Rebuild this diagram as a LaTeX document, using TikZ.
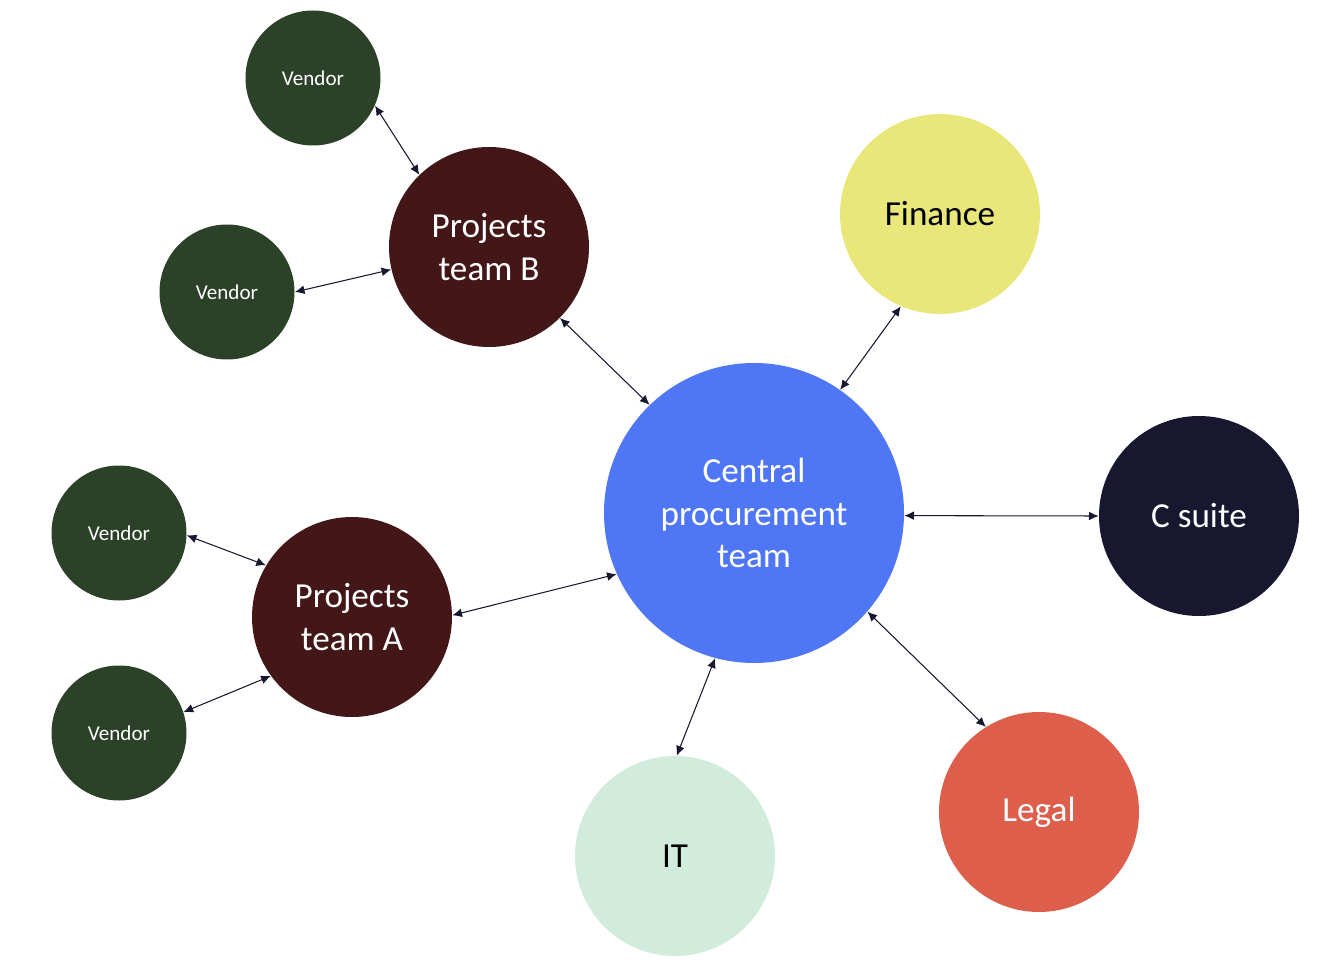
\documentclass[tikz,border=0pt]{standalone}
\usepackage{fontspec}
\setmainfont{Carlito}
\usepackage{xcolor}
\usepackage{tikz}
\usetikzlibrary{arrows.meta}

\definecolor{vendorgreen}{HTML}{2C4228}
\definecolor{teamred}{HTML}{431717}
\definecolor{centralblue}{HTML}{4F76F5}
\definecolor{financeyellow}{HTML}{E9E77A}
\definecolor{csuitenavy}{HTML}{17172F}
\definecolor{legalred}{HTML}{DD5E4A}
\definecolor{itgreen}{HTML}{D1EBDC}
\definecolor{arrowink}{HTML}{17172F}

\begin{document}
\begin{tikzpicture}[
    unit/.style={circle, inner sep=0pt, minimum size=4cm, align=center,
      font=\fontsize{20}{24}\selectfont},
    vendor/.style={circle, inner sep=0pt, minimum size=2.7cm, fill=vendorgreen,
      text=white, font=\fontsize{12}{14}\selectfont},
    link/.style={arrowink, line width=0.6pt,
      {Latex[length=5.5pt,width=5pt]}-{Latex[length=5.5pt,width=5pt]}}
  ]
    \useasboundingbox (0,0) rectangle (26.44,-19.52);

    \node[unit, minimum size=6cm, fill=centralblue, text=white] (central) at (15.08,-10.26)
      {Central\\procurement\\team};
    \node[unit, fill=teamred, text=white] (teamB) at (9.78,-4.94) {Projects\\team B};
    \node[unit, fill=teamred, text=white] (teamA) at (7.04,-12.34) {Projects\\team A};
    \node[unit, fill=financeyellow, text=black] (finance) at (18.80,-4.28) {Finance};
    \node[unit, fill=csuitenavy, text=white] (csuite) at (23.98,-10.32) {C suite};
    \node[unit, fill=legalred, text=white] (legal) at (20.78,-16.24) {Legal};
    \node[unit, fill=itgreen, text=black] (it) at (13.50,-17.12) {IT};

    \node[vendor] (vendorB1) at (6.26,-1.56) {Vendor};
    \node[vendor] (vendorB2) at (4.54,-5.84) {Vendor};
    \node[vendor] (vendorA1) at (2.38,-10.66) {Vendor};
    \node[vendor] (vendorA2) at (2.38,-14.66) {Vendor};

    % connectors
    \foreach \a/\b in {vendorB1.-24/teamB.134, vendorB2.0/teamB.193,
        teamB.-45/central.134.5, central.55/finance.247,
        central.-1/csuite.180, central.-41/legal.122,
        central.-105/it.89, central.204/teamA.1,
        vendorA1.-2/teamA.149, vendorA2.18/teamA.216}
      \draw[link] (\a) -- (\b);
  \end{tikzpicture}
\end{document}
